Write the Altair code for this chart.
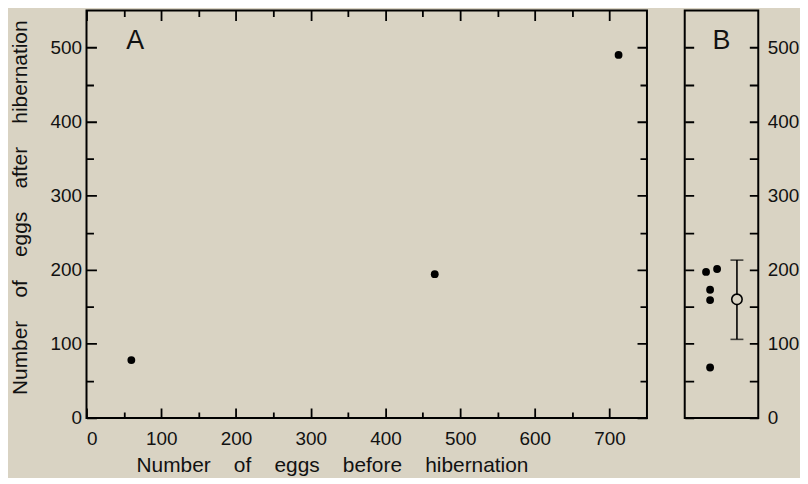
import altair as alt
import pandas as pd

# Panel A data
before_eggs = [60, 466, 712]
after_eggs = [78, 194, 490]

# Panel B data (individual values, horizontal jitter in panel units)
b_values = [197, 201, 173, 159, 68]
b_jitter = [2.9, 4.4, 3.45, 3.45, 3.45]
b_mean = [160]
b_low = [106]
b_high = [213]
b_mean_x = [7.1]

x_major = [0, 100, 200, 300, 400, 500, 600, 700]
x_minor = [50, 150, 250, 350, 450, 550, 650]
y_major = [0, 100, 200, 300, 400, 500]
y_minor = [50, 150, 250, 350, 450]
y_all = [0, 50, 100, 150, 200, 250, 300, 350, 400, 450, 500]

WA, H, WB = 564, 410, 74
BG = "#d9d3c3"
FONT = "Liberation Sans"
NB = "\u00a0" * 4

dfA = pd.DataFrame({"before": before_eggs, "after": after_eggs})
dfB = pd.DataFrame({"pos": b_jitter, "val": b_values})
dfM = pd.DataFrame({"pos": b_mean_x, "mean": b_mean, "low": b_low, "high": b_high})

xsA = alt.Scale(domain=[0, 750], nice=False, zero=False)
ys = alt.Scale(domain=[0, 550], nice=False, zero=False)
xsB = alt.Scale(domain=[0, 10], nice=False, zero=False)


def inward(span, size):
    # grid dash that leaves only a short inward tick at both edges of the frame
    return [size, span - 2 * size, size]


lab_style = dict(labelFontSize=19, labelFont=FONT, labelColor="#111",
                 titleFontSize=21, titleFont=FONT, titleFontWeight="normal", titleColor="#111")

xlab = alt.Axis(orient="bottom", values=x_major, ticks=False, domain=False,
                grid=True, gridColor="black", gridWidth=1.8, gridOpacity=1, gridDash=inward(H, 10),
                labelPadding=12,
                title=NB.join(["Number", "of", "eggs", "before", "hibernation"]),
                titleX=247, titleY=48, titleBaseline="middle", **lab_style)
ylab = alt.Axis(orient="left", values=y_major, ticks=False, domain=False,
                grid=True, gridColor="black", gridWidth=1.8, gridOpacity=1, gridDash=inward(WA, 10),
                labelPadding=5,
                title=NB.join(["Number", "of", "eggs", "after", "hibernation"]),
                titleX=-66, titleY=198, titleBaseline="middle", **lab_style)
xmin = alt.Axis(orient="top", values=x_minor, ticks=False, domain=False, labels=False, title=None,
                grid=True, gridColor="black", gridWidth=1.8, gridOpacity=1, gridDash=inward(H, 6))
ymin = alt.Axis(orient="right", values=y_minor, ticks=False, domain=False, labels=False, title=None,
                grid=True, gridColor="black", gridWidth=1.8, gridOpacity=1, gridDash=inward(WA, 7))

pointsA = alt.Chart(dfA).mark_circle(size=62, color="black", opacity=1).encode(
    x=alt.X("before:Q", scale=xsA, axis=xlab),
    y=alt.Y("after:Q", scale=ys, axis=ylab),
)
minorA = alt.Chart(dfA).mark_circle(opacity=0).encode(
    x=alt.X("before:Q", scale=xsA, axis=xmin),
    y=alt.Y("after:Q", scale=ys, axis=ymin),
)

panelA = alt.layer(minorA, pointsA).resolve_axis(x="independent", y="independent").properties(
    width=WA, height=H,
    title=alt.TitleParams(text="A", anchor="start", frame="group", dx=40, offset=-45,
                          fontSize=27, font=FONT, fontWeight="normal", color="#111"),
)

ylabB = alt.Axis(orient="right", values=y_all, ticks=False, domain=False,
                 grid=True, gridColor="black", gridWidth=1.8, gridOpacity=1, gridDash=inward(WB, 9),
                 labelExpr="datum.value % 100 === 0 ? datum.label : ''",
                 labelPadding=9, title=None, labelFontSize=19, labelFont=FONT, labelColor="#111")

pointsB = alt.Chart(dfB).mark_circle(size=62, color="black", opacity=1).encode(
    x=alt.X("pos:Q", scale=xsB, axis=None),
    y=alt.Y("val:Q", scale=ys, axis=ylabB),
)
errB = alt.Chart(dfM).mark_rule(color="black", strokeWidth=1.6).encode(
    x=alt.X("pos:Q", scale=xsB, axis=None),
    y=alt.Y("low:Q", scale=ys, axis=None),
    y2="high:Q",
)
capLow = alt.Chart(dfM).mark_tick(orient="horizontal", size=13, thickness=1.6, color="black").encode(
    x=alt.X("pos:Q", scale=xsB, axis=None),
    y=alt.Y("low:Q", scale=ys, axis=None),
)
capHigh = alt.Chart(dfM).mark_tick(orient="horizontal", size=13, thickness=1.6, color="black").encode(
    x=alt.X("pos:Q", scale=xsB, axis=None),
    y=alt.Y("high:Q", scale=ys, axis=None),
)
meanB = alt.Chart(dfM).mark_point(shape="circle", size=110, filled=True, fill=BG,
                                  stroke="black", strokeWidth=1.6, opacity=1).encode(
    x=alt.X("pos:Q", scale=xsB, axis=None),
    y=alt.Y("mean:Q", scale=ys, axis=None),
)

panelB = alt.layer(pointsB, errB, capLow, capHigh, meanB).resolve_axis(
    y="independent"
).properties(
    width=WB, height=H,
    title=alt.TitleParams(text="B", anchor="middle", frame="group", offset=-45,
                          fontSize=27, font=FONT, fontWeight="normal", color="#111"),
)

chart = alt.hconcat(panelA, panelB, spacing=36).configure(
    background=BG, padding={"left": 0, "top": 0, "right": 0, "bottom": 0}
).configure_view(stroke="black", strokeWidth=2, fill=BG)

chart.save("out.html", embed_options={"renderer": "svg", "actions": False})
